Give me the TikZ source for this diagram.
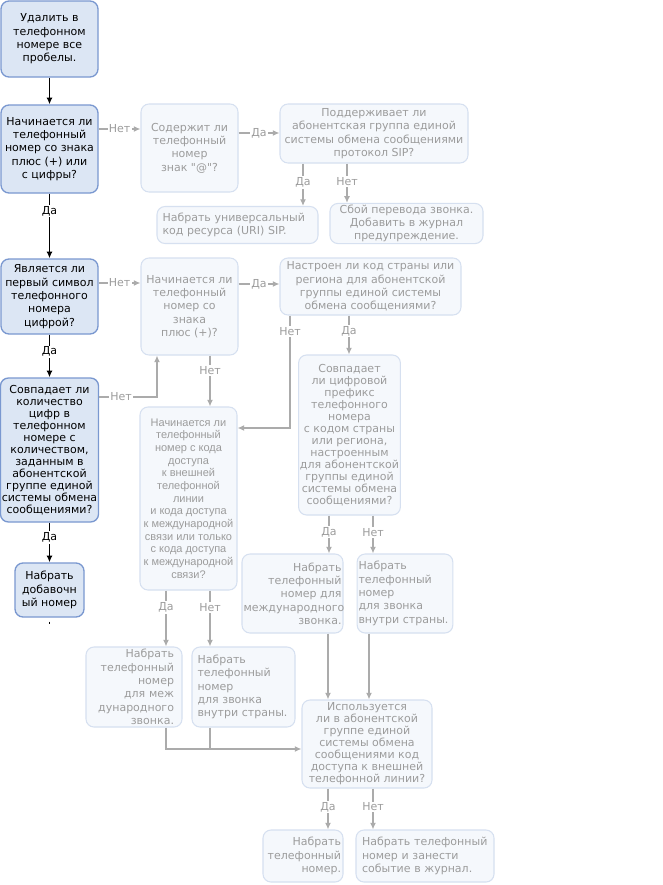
\documentclass[tikz,border=0pt]{standalone}
\usepackage{fontspec}
\setmainfont{DejaVu Sans}[Ligatures=TeXOff]
\newfontfamily\narrowfont{Liberation Sans}
\usepackage{xcolor}
\usetikzlibrary{arrows.meta}
\definecolor{DarkFill}{HTML}{DCE6F4}
\definecolor{DarkLine}{HTML}{7A98D0}
\definecolor{PaleFill}{HTML}{F5F8FC}
\definecolor{PaleLine}{HTML}{D6E0F0}
\definecolor{PaleText}{HTML}{9C9C9C}
\definecolor{PaleArrow}{HTML}{ABABAB}
\newdimen\pxu \pxu=0.75pt
\tikzset{
  darkbox/.style={draw=DarkLine, fill=DarkFill, rounded corners=6pt, line width=1pt, align=center, inner sep=1pt, font=\fontsize{8.25}{10}\selectfont},
  palebox/.style={draw=PaleLine, fill=PaleFill, text=PaleText, rounded corners=6pt, line width=0.8pt, align=center, inner sep=1pt, font=\fontsize{8.25}{10}\selectfont},
  darkarrow/.style={line width=1.3pt, -{Latex[length=5pt,width=4.5pt]}},
  paleline/.style={PaleArrow, line width=1.2pt},
  palearrow/.style={paleline, -{Latex[length=5pt,width=4.5pt]}},
  darklabel/.style={fill=white, inner sep=1pt, font=\fontsize{8.25}{10}\selectfont},
  palelabel/.style={darklabel, text=PaleText},
}

\begin{document}
\begin{tikzpicture}[x=0.75pt, y=-0.75pt]%
\useasboundingbox (0,0) rectangle (663,885);%
\fill[white] (0,0) rectangle (663,885);%
% left column
\node[darkbox, minimum width=97\pxu, minimum height=76\pxu] (strip) at (49.5,39) {Удалить в\\телефонном\\номере все\\пробелы.};%
\node[darkbox, minimum width=97\pxu, minimum height=88\pxu] (plusdigit) at (49.5,149) {Начинается ли\\телефонный\\номер со знака\\плюс (+) или\\с цифры?};%
\node[darkbox, minimum width=97\pxu, minimum height=75\pxu] (digitfirst) at (49.5,296.5) {Является ли\\первый символ\\телефонного\\номера\\цифрой?};%
\node[darkbox, minimum width=97\pxu, minimum height=144\pxu, font=\fontsize{8.25}{9}\selectfont] (countmatch) at (49.5,450) {Совпадает ли\\количество\\цифр в\\телефонном\\номере с\\количеством,\\заданным в\\абонентской\\группе единой\\системы обмена\\сообщениями?};%
\node[darkbox, minimum width=69\pxu, minimum height=54\pxu] (extension) at (49.5,590) {Набрать\\добавочн\\ый номер};%
% SIP branch
\node[palebox, minimum width=97\pxu, minimum height=88\pxu] (atsign) at (189.5,148) {Содержит ли\\телефонный\\номер\\знак "@"?};%
\node[palebox, minimum width=188\pxu, minimum height=59\pxu] (sipq) at (374,133.5) {Поддерживает ли\\абонентская группа единой\\системы обмена сообщениями\\протокол SIP?};%
\node[palebox, minimum width=161\pxu, minimum height=37\pxu, text width=150\pxu, align=left] (uri) at (237.5,225) {Набрать универсальный\\код ресурса (URI) SIP.};%
\node[palebox, minimum width=153\pxu, minimum height=40\pxu] (sipfail) at (406.5,223.5) {Сбой перевода звонка.\\Добавить в журнал\\предупреждение.};%
% plus branch
\node[palebox, minimum width=97\pxu, minimum height=97\pxu] (plusq) at (189.5,306.5) {Начинается ли\\телефонный\\номер со\\знака\\плюс (+)?};%
\node[palebox, minimum width=181\pxu, minimum height=57\pxu] (ccset) at (370.5,286.5) {Настроен ли код страны или\\региона для абонентской\\группы единой системы\\обмена сообщениями?};%
\node[palebox, minimum width=97\pxu, minimum height=183\pxu, font=\narrowfont\fontsize{8.25}{9.5}\selectfont] (accesscode) at (188.5,498.5) {Начинается ли\\телефонный\\номер с кода\\доступа\\к внешней\\телефонной\\линии\\и кода доступа\\к международной\\связи или только\\с кода доступа\\к международной\\связи?};%
\node[palebox, minimum width=97\pxu, minimum height=160\pxu, font=\fontsize{8.25}{9}\selectfont] (prefixmatch) at (349.5,435) {Совпадает\\ли цифровой\\префикс\\телефонного\\номера\\с кодом страны\\или региона,\\настроенным\\для абонентской\\группы единой\\системы обмена\\сообщениями?};%
\node[palebox, minimum width=101\pxu, minimum height=79\pxu, text width=98\pxu, align=right] (intldial) at (292.5,593.5) {Набрать\\телефонный\\номер для\\международного\\звонка.};%
\node[palebox, minimum width=95\pxu, minimum height=79\pxu, text width=93\pxu, align=left] (domdial) at (405,593.5) {Набрать\\телефонный\\номер\\для звонка\\внутри страны.};%
\node[palebox, minimum width=96\pxu, minimum height=80\pxu, text width=80\pxu, align=right] (intldialb) at (134,687) {Набрать\\телефонный\\номер\\для меж\\дународного\\звонка.};%
\node[palebox, minimum width=103\pxu, minimum height=80\pxu, text width=92\pxu, align=left] (domdialb) at (243.5,687) {Набрать\\телефонный\\номер\\для звонка\\внутри страны.};%
\node[palebox, minimum width=130\pxu, minimum height=88\pxu, font=\fontsize{8.25}{9}\selectfont] (outsideq) at (367,744) {Используется\\ли в абонентской\\группе единой\\системы обмена\\сообщениями код\\доступа к внешней\\телефонной линии?};%
\node[palebox, minimum width=80\pxu, minimum height=52\pxu, text width=76\pxu, align=right] (dialnum) at (303,856) {Набрать\\телефонный\\номер.};%
\node[palebox, minimum width=138\pxu, minimum height=52\pxu, text width=126\pxu, align=left] (diallog) at (425,856) {Набрать телефонный\\номер и занести\\событие в журнал.};%
% dark connectors
\draw[darkarrow] (strip) -- (plusdigit);%
\draw[darkarrow] (plusdigit) -- node[darklabel, pos=0.27] {Да} (digitfirst);%
\draw[darkarrow] (digitfirst) -- node[darklabel, pos=0.4] {Да} (countmatch);%
\draw[darkarrow] (countmatch) -- node[darklabel, pos=0.37] {Да} (extension);%
\draw[line width=1.1pt] (extension.south) ++(0,4) -- ++(0,2);%
% pale connectors
\draw[palearrow] (plusdigit.east |- 0,129) -- node[palelabel] {Нет} (atsign.west |- 0,129);%
\draw[palearrow] (atsign.east |- 0,133) -- node[palelabel] {Да} (sipq.west |- 0,133);%
\draw[palearrow] (sipq.south -| 303,0) -- node[palelabel, pos=0.45] {Да} (uri.north -| 303,0);%
\draw[palearrow] (sipq.south -| 347,0) -- node[palelabel, pos=0.45] {Нет} (sipfail.north -| 347,0);%
\draw[palearrow] (digitfirst.east |- 0,283) -- node[palelabel] {Нет} (plusq.west |- 0,283);%
\draw[palearrow] (plusq.east |- 0,284) -- node[palelabel] {Да} (ccset.west |- 0,284);%
\draw[palearrow] (ccset.south -| 349,0) -- node[palelabel, pos=0.4] {Да} (prefixmatch.north -| 349,0);%
\draw[palearrow] (ccset.south -| 290,0) |- node[palelabel, pos=0.07] {Нет} (accesscode.east |- 0,428);%
\draw[palearrow] (countmatch.east |- 0,397) -| node[palelabel, pos=0.19] {Нет} (plusq.south -| 157,0);%
\draw[palearrow] (plusq.south -| 210,0) -- node[palelabel, pos=0.3] {Нет} (accesscode.north -| 210,0);%
\draw[palearrow] (accesscode.south -| 166,0) -- node[palelabel, pos=0.3] {Да} (intldialb.north -| 166,0);%
\draw[palearrow] (accesscode.south -| 210,0) -- node[palelabel, pos=0.3] {Нет} (domdialb.north -| 210,0);%
\draw[palearrow] (prefixmatch.south -| 329,0) -- node[palelabel, pos=0.44] {Да} (intldial.north -| 329,0);%
\draw[palearrow] (prefixmatch.south -| 373,0) -- node[palelabel, pos=0.44] {Нет} (domdial.north -| 373,0);%
\draw[palearrow] (intldial.south -| 328,0) -- (outsideq.north -| 328,0);%
\draw[palearrow] (domdial.south -| 369,0) -- (outsideq.north -| 369,0);%
\coordinate (joinpt) at (210,749);%
\draw[palearrow] (intldialb.south -| 166,0) |- (outsideq.west |- joinpt);%
\draw[paleline] (domdialb.south -| 210,0) -- (joinpt);%
\draw[palearrow] (outsideq.south -| 328,0) -- node[palelabel, pos=0.45] {Да} (dialnum.north -| 328,0);%
\draw[palearrow] (outsideq.south -| 373,0) -- node[palelabel, pos=0.45] {Нет} (diallog.north -| 373,0);%
\end{tikzpicture}
\end{document}
